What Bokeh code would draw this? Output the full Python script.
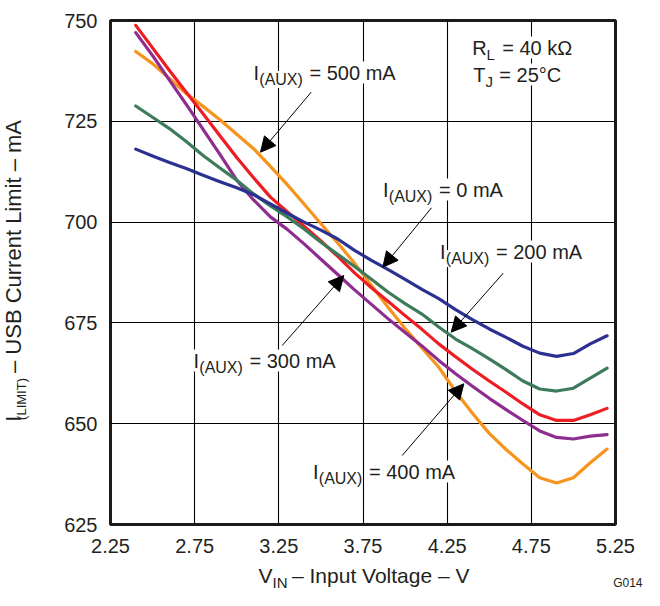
import math
from bokeh.plotting import figure
from bokeh.layouts import row, column
from bokeh.models import Label, Arrow, NormalHead, FixedTicker, Range1d
from bokeh.embed import file_html
from bokeh.resources import INLINE

# ---- data ----
vin = [2.4, 2.5, 2.6, 2.7, 2.8, 2.9, 3.0, 3.1, 3.2, 3.3, 3.4, 3.5, 3.6, 3.7, 3.8,
       3.9, 4.0, 4.1, 4.2, 4.3, 4.4, 4.5, 4.6, 4.7, 4.8, 4.9, 5.0, 5.1, 5.2]
ilim_aux_0 = [718.1, 716.4, 714.8, 713.3, 711.6, 710.0, 708.5, 706.8, 704.5, 702.2, 700.0,
              698.0, 695.8, 693.0, 690.5, 688.2, 685.8, 683.3, 681.0, 678.3, 675.8, 673.5,
              671.4, 669.2, 667.5, 666.7, 667.4, 669.8, 671.8]
ilim_aux_200 = [728.8, 726.0, 723.2, 720.0, 716.5, 713.4, 710.4, 707.0, 704.0, 701.3, 698.3,
                695.0, 692.0, 689.0, 685.8, 682.6, 679.8, 677.2, 674.0, 671.0, 668.6, 666.1,
                663.4, 660.6, 658.6, 658.1, 658.8, 661.3, 663.8]
ilim_aux_300 = [748.8, 743.2, 737.6, 732.2, 726.9, 721.4, 716.0, 711.0, 706.2, 702.6, 699.0,
                695.3, 691.5, 687.4, 683.7, 680.3, 676.8, 673.4, 669.8, 666.6, 663.5, 660.6,
                657.8, 654.9, 652.2, 650.8, 650.8, 652.2, 653.8]
ilim_aux_400 = [747.0, 741.3, 735.2, 729.2, 723.0, 716.8, 710.4, 705.5, 701.3, 698.2, 694.6,
                690.8, 687.0, 683.2, 679.6, 676.0, 672.6, 669.3, 665.7, 662.4, 659.3, 656.3,
                653.5, 650.8, 648.2, 646.6, 646.2, 646.9, 647.3]
ilim_aux_500 = [742.3, 739.3, 735.6, 731.9, 728.7, 725.4, 721.8, 718.2, 713.8, 709.3, 704.5,
                699.6, 694.8, 689.8, 684.3, 678.8, 673.6, 668.8, 664.0, 658.0, 652.6, 647.6,
                643.6, 640.0, 636.6, 635.3, 636.6, 640.3, 643.7]
x_ticks = [2.25, 2.75, 3.25, 3.75, 4.25, 4.75, 5.25]
y_ticks = [625, 650, 675, 700, 725, 750]

series = [
    (ilim_aux_500, "#F7941D"),
    (ilim_aux_400, "#8E2C8F"),
    (ilim_aux_300, "#EE1D24"),
    (ilim_aux_200, "#3E7B5B"),
    (ilim_aux_0, "#2B3190"),
]

# ---- layout (page pixels) ----
X0, X1, Y0, Y1 = 2.25, 5.25, 625, 750
FL, FR, FT, FB = 110, 615, 20, 524      # plot frame
W, H = 644, 590                          # whole page content
YW = 40                                  # strip for the y title
PH = 562                                 # height of main figure


def dx(px):
    return X0 + (px - FL) / (FR - FL) * (X1 - X0)


def dy(py):
    return Y1 - (py - FT) / (FB - FT) * (Y1 - Y0)


FONT = "Liberation Sans"
TXT = "#231F20"

p = figure(width=W - YW, height=PH, x_range=Range1d(X0, X1), y_range=Range1d(Y0, Y1),
           output_backend="svg", toolbar_location=None,
           min_border_left=FL - YW, min_border_right=W - FR,
           min_border_top=FT, min_border_bottom=PH - FB)
p.background_fill_color = "white"
p.border_fill_color = "white"
p.outline_line_color = "#1A1A1A"
p.outline_line_width = 3

p.xaxis.ticker = FixedTicker(ticks=x_ticks)
p.yaxis.ticker = FixedTicker(ticks=y_ticks)
for ax in (p.xaxis[0], p.yaxis[0]):
    ax.axis_line_color = None
    ax.major_tick_line_color = None
    ax.minor_tick_line_color = None
    ax.major_tick_in = 0
    ax.major_tick_out = 0
    ax.major_label_text_font = FONT
    ax.major_label_text_font_size = "20px"
    ax.major_label_text_color = TXT
p.xaxis.major_label_standoff = 14
p.yaxis.major_label_standoff = 13

p.grid.grid_line_color = "black"
p.grid.grid_line_width = 1.1
p.grid.grid_line_alpha = 1

for vals, col in series:
    p.line(vin, vals, line_color=col, line_width=3.2, line_join="round", line_cap="round")


def lab(fig, x, y, text, size, angle=0.0, align="left", baseline="alphabetic", bg=True):
    fig.add_layout(Label(x=x, y=y, text=text, text_font=FONT,
                         text_font_size=f"{size}px", text_color=TXT, angle=angle,
                         text_align=align, text_baseline=baseline,
                         background_fill_color="white" if bg else None))


def plab(px, base, text, size):
    # base = wanted visual baseline (page px); renderer sits text ~size/2 lower
    lab(p, dx(px), dy(base - 0.5 * size), text, size)


def sub_label(x0, base, main1, sub, rest, dsub, drest, fs=20, sfs=16, drop=5):
    plab(x0, base, main1, fs)
    plab(x0 + dsub, base + drop, sub, sfs)
    plab(x0 + drest, base, rest, fs)


# I(AUX) labels: (x0, visual baseline) in page px
aux_labels = [
    (253.0, 82, "= 500 mA"),
    (382.5, 199, "= 0 mA"),
    (439.5, 261, "= 200 mA"),
    (193.0, 370, "= 300 mA"),
    (312.5, 481, "= 400 mA"),
]
for x0, b, rest in aux_labels:
    sub_label(x0, b, "I", "(AUX)", rest, 5.8, 56.0)

sub_label(471.7, 57, "R", "L", "= 40 kΩ", 14.4, 30.0, sfs=15, drop=4)
sub_label(472.8, 84, "T", "J", "= 25°C", 12.2, 26.0, sfs=15, drop=4)

# arrows: (start, tip) in page px
arrows = [
    ((310.7, 91.7), (260.0, 151.7)),
    ((431.0, 207.3), (382.3, 266.7)),
    ((502.7, 272.7), (450.7, 331.7)),
    ((281.7, 345.0), (343.3, 275.0)),
    ((401.7, 455.0), (463.3, 383.3)),
]
for (sx, sy), (ex, ey) in arrows:
    p.add_layout(Arrow(end=NormalHead(size=15, fill_color="black", line_color="black", line_width=1),
                       x_start=dx(sx), y_start=dy(sy), x_end=dx(ex), y_end=dy(ey),
                       line_color="black", line_width=1))


def strip(w, h, left, top):
    f = figure(width=w, height=h, x_range=Range1d(left, left + w),
               y_range=Range1d(top + h, top), x_axis_type=None, y_axis_type=None,
               output_backend="svg", toolbar_location=None, min_border=0)
    f.outline_line_color = None
    f.background_fill_color = "white"
    f.border_fill_color = "white"
    f.grid.visible = False
    return f


# y title strip (page x 0..YW, y 0..PH); rotated pieces anchored at their centres
ys = strip(YW, PH, 0, 0)
rot = math.pi / 2
lab(ys, 12.5, 444.0, "I", 22, angle=rot, align="center", baseline="middle", bg=False)
lab(ys, 21.0, 422.0, "(LIMIT)", 13, angle=rot, align="center", baseline="middle", bg=False)
lab(ys, 12.5, 252.0, "– USB Current Limit – mA", 22, angle=rot, align="center",
    baseline="middle", bg=False)

# x title strip (page x 0..W, y PH..H)
xs = strip(W, H - PH, 0, PH)
lab(xs, 258, 585.5 - 10.5, "V", 21, bg=False)
lab(xs, 272, 589.0 - 7.5, "IN", 15, bg=False)
lab(xs, 291.5, 585.5 - 10.5, "– Input Voltage – V", 21, bg=False)
lab(xs, 642, 588.0 - 6.0, "G014", 12, align="right", bg=False)

layout = column(row(ys, p, spacing=0), xs, spacing=0)
open("out.html", "w").write(file_html(layout, INLINE))
